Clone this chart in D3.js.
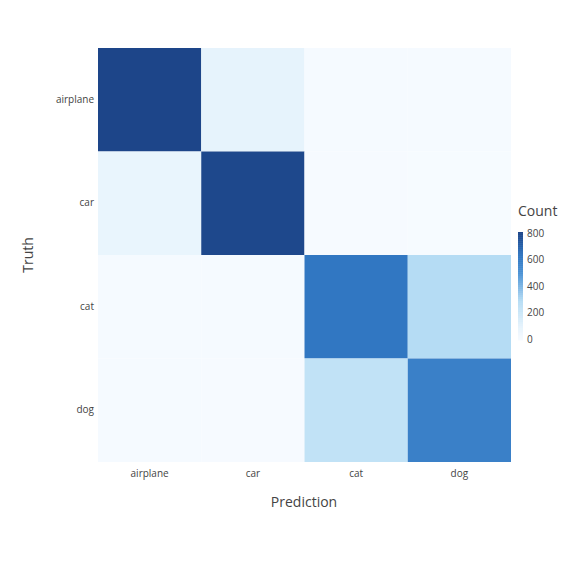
<!DOCTYPE html>
<html><head><meta charset="utf-8">
<script src="https://cdn.jsdelivr.net/npm/d3@7"></script>
<style>body{margin:0;background:#fff}text{font-family:"Open Sans",sans-serif}</style>
</head><body><svg id="chart" width="567" height="567"></svg>
<script>
var classes = ['airplane', 'car', 'cat', 'dog'];
// rows = truth, cols = prediction
var counts = [
    [820, 100, 12, 10],
    [80, 810, 8, 6],
    [14, 12, 640, 300],
    [10, 8, 250, 600]
];
var legendTicks = [0, 200, 400, 600, 800];

var svg = d3.select('#chart');
var x = d3.scaleBand().domain(classes).range([98, 511]);
var y = d3.scaleBand().domain(classes).range([48, 462]);
var color = d3.scaleLinear()
    .domain([0, 100, 300, 500, 640, 820])
    .range(['#f7fbff', '#e6f3fc', '#b5dcf4', '#4f95d6', '#3177c2', '#1d4589']);

classes.forEach(function(t, i) {
    svg.selectAll(null).data(counts[i]).enter().append('rect')
        .attr('x', function(d, j) { return x(classes[j]); })
        .attr('y', y(t))
        .attr('width', x.bandwidth())
        .attr('height', y.bandwidth())
        .attr('fill', function(d) { return color(d); });
});

var xa = svg.append('g').attr('transform', 'translate(0,462)')
    .call(d3.axisBottom(x).tickSize(0).tickPadding(8));
var ya = svg.append('g').attr('transform', 'translate(98,0)')
    .call(d3.axisLeft(y).tickSize(0).tickPadding(4));
[xa, ya].forEach(function(a) {
    a.select('.domain').remove();
    a.selectAll('text').attr('fill', '#444').style('font-size', '10px');
});

svg.append('text').attr('x', 304).attr('y', 507).attr('text-anchor', 'middle')
    .attr('fill', '#444').style('font-size', '14px').text('Prediction');
svg.append('text').attr('transform', 'translate(33,255) rotate(-90)')
    .attr('text-anchor', 'middle').attr('fill', '#444').style('font-size', '14px').text('Truth');

// colour bar
var cb = d3.scaleLinear().domain([0, 820]).range([340, 232]);
var steps = d3.range(0, 820, 5);
svg.selectAll(null).data(steps).enter().append('rect')
    .attr('x', 518).attr('width', 5)
    .attr('y', function(d) { return cb(d + 5); })
    .attr('height', cb(0) - cb(5) + 0.5)
    .attr('fill', function(d) { return color(d); });
svg.selectAll(null).data(legendTicks).enter().append('text')
    .attr('x', 527).attr('y', function(d) { return cb(d) - 1; })
    .attr('dy', '0.35em').attr('fill', '#444').style('font-size', '10px')
    .text(function(d) { return d; });
svg.append('text').attr('x', 518).attr('y', 216)
    .attr('fill', '#444').style('font-size', '14px').text('Count');
</script></body></html>
